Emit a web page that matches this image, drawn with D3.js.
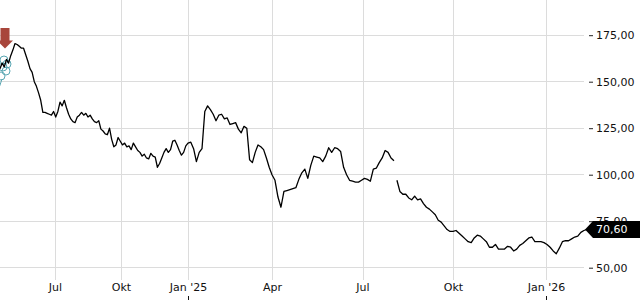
<!DOCTYPE html>
<html><head><meta charset="utf-8">
<script src="https://cdn.jsdelivr.net/npm/d3@7"></script>
<style>html,body{margin:0;padding:0;background:#fff;overflow:hidden}</style>
</head><body><svg id="c" width="640" height="300"></svg>
<script>
// ---- data ----
const start2024 = "2024-04-15";
const prices2024 = [
157,160,158,162,160,164,167,170.5,170,169,168,168,164.5,161,157,155,150,147.5,144,140,
133.5,133.5,133,132.5,132,134,131,134,139,137,140,136,132.5,130,128.5,128,131,132,133.5,132,
133,131,132,130,128.5,128,129,124.5,123.5,122,121.5,125,119,115,116,120,118,116,117,115,
115.5,113.5,117,115,113,112,110,111,109,108.5,111.5,110,109.5,104,106,109,112,114,112,113.5,
118,118.5,116,113,110.5,112,115.5];
const start2025a = "2025-01-01";
const prices2025a = [
117,117.5,114,107,112,114,134,137,135,132.5,
129,132,132.5,130,130.5,127,127.5,128,124.5,122.5,
126,125,108,106.5,112,116,115,113.5,109,104,
100,97,88,82.5,91,91.5,92,92.5,93,97.5,
101,103,98,105,110,109.5,109,107,110,114.5,
112,114.5,114,112.5,104,100,97,96.5,96,96,
97,98,97.5,96.5,103,103.5,106.5,109,113,112,
109,107.5];
const start2025b = "2025-08-05";
const prices2025b = [
97,91,89.5,89.5,87.5,86.5,88.5,86.5,87,84.5,
82.5,81.5,80,78.5,75.5,74.5,72.5,70.5,69.5,69.5,
70,68.5,67,65.5,64,63.5,66,67.5,67,65.5,
64,61,61,62.5,60,60,60,61.5,61,59,
60,62,63,64.5,66,66.5,64,64,64,63.5,
62.5,61,59,57.5,60.5,64,64.5,64.5,65.5,66.5,
67,69,70,70.6];
const stepDays = 3;
const lastPrice = 70.60;
const yTicks = [50, 75, 100, 125, 150, 175];
const xTickDates = ["2024-07-01","2024-10-01","2025-01-01","2025-04-01","2025-07-01","2025-10-01","2026-01-01"];
const xTickLabels = ["Jul","Okt","Jan '25","Apr","Jul","Okt","Jan '26"];
const yearTicks = ["2025-01-01","2026-01-01"];

// ---- chart ----
const parse = d3.timeParse("%Y-%m-%d");
const de = d3.formatLocale({decimal:",", thousands:".", grouping:[3], currency:["","€"]});
const fmt = de.format(".2f");
const FONT = "DejaVu Sans, sans-serif";

const svg = d3.select("#c");
const x = d3.scaleTime()
  .domain(["2024-04-15","2024-07-01","2024-10-01","2025-01-01","2025-04-01","2025-07-01","2025-10-01","2026-01-01","2026-02-10"].map(parse))
  .range([0, 55, 121, 188, 272, 362.5, 453, 546, 587]);
const y = d3.scaleLinear().domain([50, 175]).range([267.7, 35.2]);

const build = (vals, s) => vals.map((v, i) => ({date: d3.timeDay.offset(parse(s), i * stepDays), v}));
const seg1 = build(prices2024, start2024).concat(build(prices2025a, start2025a));
const seg2 = build(prices2025b, start2025b);

// grid
const grid = svg.append("g");
grid.selectAll("line.h").data(yTicks).join("line")
  .attr("x1", 0).attr("x2", 584)
  .attr("y1", d => y(d)).attr("y2", d => y(d))
  .attr("stroke", "#dcdcdc").attr("stroke-width", 1).attr("shape-rendering", "crispEdges");
grid.selectAll("line.v").data(xTickDates).join("line")
  .attr("x1", d => Math.round(x(parse(d))) + 0.5).attr("x2", d => Math.round(x(parse(d))) + 0.5)
  .attr("y1", 0).attr("y2", 280)
  .attr("stroke", "#dcdcdc").attr("stroke-width", 1);

// y axis (right)
const yAxis = svg.append("g").attr("transform", "translate(589,0)")
  .call(d3.axisRight(y).tickValues(yTicks).tickSize(4).tickPadding(3).tickFormat(fmt));
yAxis.select(".domain").remove();
yAxis.selectAll("line").attr("stroke", "#222");
yAxis.selectAll("text").attr("font-family", FONT).attr("font-size", 11).attr("fill", "#111");

// x axis (bottom)
const xAxis = svg.append("g").attr("transform", "translate(0,280)")
  .call(d3.axisBottom(x).tickValues(xTickDates.map(parse)).tickSize(0).tickPadding(3)
    .tickFormat((d, i) => xTickLabels[i]));
xAxis.select(".domain").remove();
xAxis.selectAll("text").attr("font-family", FONT).attr("font-size", 11).attr("fill", "#111");
svg.append("g").selectAll("line").data(yearTicks).join("line")
  .attr("x1", d => Math.round(x(parse(d))) + 0.5).attr("x2", d => Math.round(x(parse(d))) + 0.5)
  .attr("y1", 296).attr("y2", 300).attr("stroke", "#111");

// event markers (top-left)
const ev = svg.append("g");
[[4,60],[7,64],[3,67],[6,71],[1,76]].forEach(([cx, cy]) => {
  ev.append("circle").attr("cx", cx).attr("cy", cy).attr("r", 4)
    .attr("fill", "none").attr("stroke", "#5aa7b3").attr("stroke-width", 1);
});
ev.append("path").attr("d", "M2,79 L-1,88").attr("stroke", "#5aa7b3").attr("fill", "none");
ev.append("path").attr("d", "M0.5,28 H9.5 V40.5 H13 L5,48.5 L-3,40.5 H0.5 Z").attr("fill", "#a8463b");

// price line
const line = d3.line().x(d => x(d.date)).y(d => y(d.v));
[seg1, seg2].forEach(s => {
  svg.append("path").datum(s).attr("d", line)
    .attr("fill", "none").attr("stroke", "#000").attr("stroke-width", 1.3)
    .attr("stroke-linejoin", "round");
});

// last price label
const ly = y(lastPrice);
svg.append("path")
  .attr("d", `M585,${ly} L593,${ly - 8.5} H640 V${ly + 8.5} H593 Z`)
  .attr("fill", "#000");
svg.append("text").attr("x", 596).attr("y", ly).attr("dy", "0.36em")
  .attr("font-family", FONT).attr("font-size", 11).attr("fill", "#fff")
  .text(fmt(lastPrice));
</script></body></html>
